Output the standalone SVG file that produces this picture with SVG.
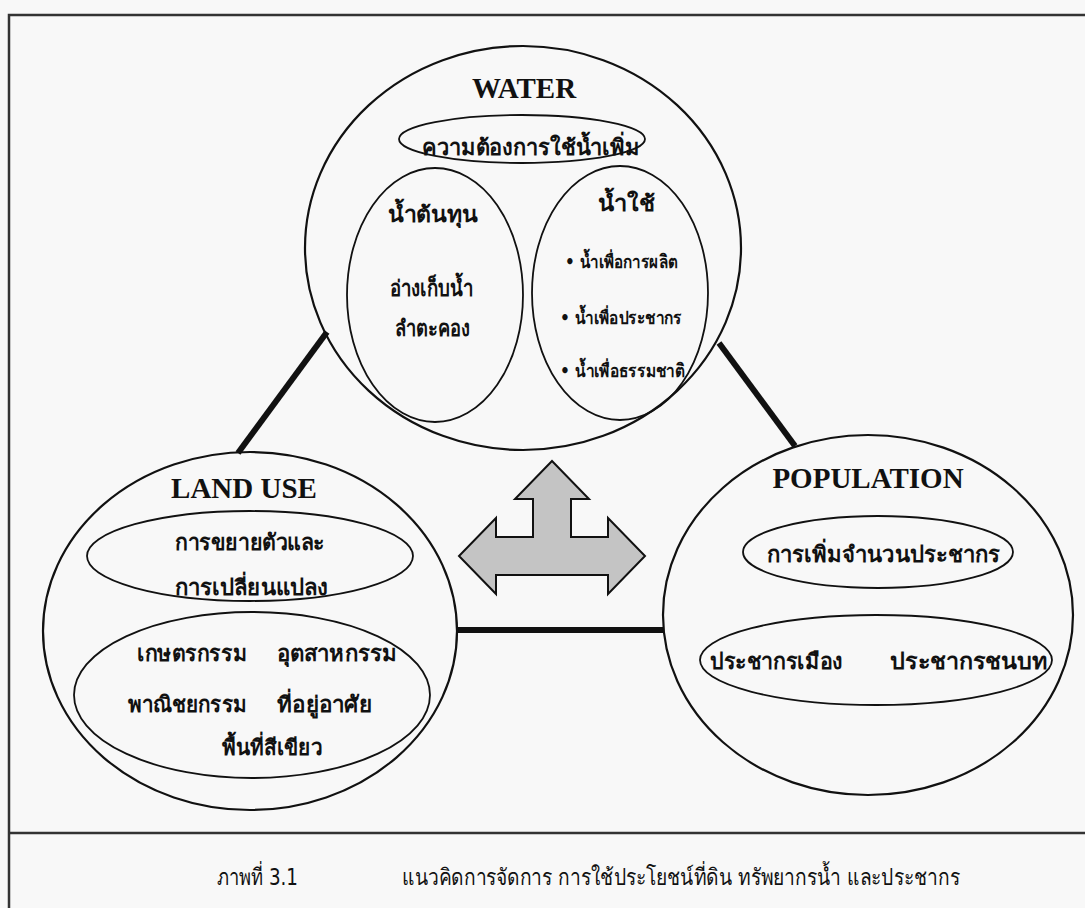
<svg xmlns="http://www.w3.org/2000/svg" width="1085" height="908" viewBox="0 0 1085 908">
<style>
.frame{fill:none;stroke:#333;stroke-width:2.5}
.big{fill:none;stroke:#111;stroke-width:2.2}
.sub{fill:none;stroke:#111;stroke-width:1.8}
.link{stroke:#111;stroke-width:6;stroke-linecap:butt}
.title{font-family:"Liberation Serif","Times New Roman",serif;font-weight:bold;font-size:29px;fill:#111;text-anchor:middle}
.th{font-family:"DejaVu Sans","Noto Sans",sans-serif;font-weight:bold;font-size:22px;fill:#111}
.ths{font-family:"DejaVu Sans","Noto Sans",sans-serif;font-weight:bold;font-size:18px;fill:#111}
.cap{font-family:"DejaVu Sans","Noto Sans",sans-serif;font-size:23px;fill:#111}
</style>
<rect width="1085" height="908" fill="#f8f8f8"/>
<g id="frame">
<path class="frame" d="M9,908 V15 H1085"/>
<line class="frame" x1="9" y1="833" x2="1085" y2="833"/>
</g>
<g id="connectors">
<line class="link" x1="327" y1="332" x2="238" y2="453"/>
<line class="link" x1="719" y1="343" x2="795" y2="446"/>
<line class="link" x1="457" y1="630" x2="664" y2="630"/>
<polygon points="552,461 589,499 571,499 571,537 608,537 608,518 645,556 608,594 608,575 496,575 496,594 459,556 496,518 496,537 533,537 533,499 515,499" fill="#c4c4c4" stroke="#111" stroke-width="2" stroke-linejoin="miter"/>
</g>
<g id="water">
<ellipse class="big" cx="523" cy="248" rx="218" ry="202"/>
<text class="title" x="524" y="98">WATER</text>
<ellipse class="sub" cx="522" cy="139" rx="123" ry="24"/>
<text class="th" x="422" y="155" textLength="218" lengthAdjust="spacingAndGlyphs">ความต้องการใช้น้ำเพิ่ม</text>
<ellipse class="sub" cx="435" cy="295" rx="88" ry="127"/>
<text class="th" x="388" y="222" textLength="90" lengthAdjust="spacingAndGlyphs">น้ำต้นทุน</text>
<text class="th" x="390" y="296" textLength="83" lengthAdjust="spacingAndGlyphs">อ่างเก็บน้ำ</text>
<text class="th" x="395" y="336" textLength="75" lengthAdjust="spacingAndGlyphs">ลำตะคอง</text>
<ellipse class="sub" cx="620" cy="293" rx="88" ry="127"/>
<text class="th" x="598" y="211" textLength="57" lengthAdjust="spacingAndGlyphs">น้ำใช้</text>
<text class="ths" x="565" y="268" textLength="113" lengthAdjust="spacingAndGlyphs">• น้ำเพื่อการผลิต</text>
<text class="ths" x="560" y="324" textLength="122" lengthAdjust="spacingAndGlyphs">• น้ำเพื่อประชากร</text>
<text class="ths" x="560" y="377" textLength="125" lengthAdjust="spacingAndGlyphs">• น้ำเพื่อธรรมชาติ</text>
</g>
<g id="landuse">
<ellipse class="big" cx="250" cy="631" rx="207" ry="179"/>
<text class="title" x="244" y="498">LAND USE</text>
<ellipse class="sub" cx="250" cy="556" rx="163" ry="45"/>
<text class="th" x="175" y="550" textLength="150" lengthAdjust="spacingAndGlyphs">การขยายตัวและ</text>
<text class="th" x="175" y="595" textLength="153" lengthAdjust="spacingAndGlyphs">การเปลี่ยนแปลง</text>
<ellipse class="sub" cx="252" cy="695" rx="178" ry="83"/>
<text class="th" x="137" y="661" textLength="110" lengthAdjust="spacingAndGlyphs">เกษตรกรรม</text>
<text class="th" x="277" y="661" textLength="120" lengthAdjust="spacingAndGlyphs">อุตสาหกรรม</text>
<text class="th" x="128" y="712" textLength="119" lengthAdjust="spacingAndGlyphs">พาณิชยกรรม</text>
<text class="th" x="277" y="712" textLength="95" lengthAdjust="spacingAndGlyphs">ที่อยู่อาศัย</text>
<text class="th" x="222" y="755" textLength="100" lengthAdjust="spacingAndGlyphs">พื้นที่สีเขียว</text>
</g>
<g id="population">
<ellipse class="big" cx="868" cy="615" rx="205" ry="180"/>
<text class="title" x="868" y="488">POPULATION</text>
<ellipse class="sub" cx="878" cy="552" rx="135" ry="36"/>
<text class="th" x="767" y="562" textLength="233" lengthAdjust="spacingAndGlyphs">การเพิ่มจำนวนประชากร</text>
<ellipse class="sub" cx="876" cy="660" rx="176" ry="45"/>
<text class="th" x="710" y="669" textLength="133" lengthAdjust="spacingAndGlyphs">ประชากรเมือง</text>
<text class="th" x="890" y="669" textLength="158" lengthAdjust="spacingAndGlyphs">ประชากรชนบท</text>
</g>
<g id="caption">
<text class="cap" x="217" y="885" textLength="81" lengthAdjust="spacingAndGlyphs">ภาพที่ 3.1</text>
<text class="cap" x="402" y="885" textLength="558" lengthAdjust="spacingAndGlyphs">แนวคิดการจัดการ การใช้ประโยชน์ที่ดิน ทรัพยากรน้ำ และประชากร</text>
</g>
</svg>
